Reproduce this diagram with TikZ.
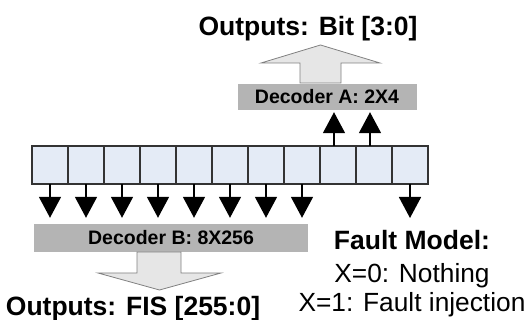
\documentclass[tikz,border=0pt]{standalone}
\usepackage{fontspec}
\setmainfont{Liberation Sans}
\usetikzlibrary{arrows.meta,calc}

\definecolor{cellblue}{HTML}{E4EBF6}
\definecolor{decgray}{HTML}{B4B4B4}
\definecolor{fatfill}{HTML}{E6E6E6}
\definecolor{fatline}{HTML}{808080}

\tikzset{
    cell/.style={draw=black!80, fill=cellblue, line width=1.5pt, minimum width=36pt,
        minimum height=38pt, inner sep=0pt, outer sep=0pt},
    decoder/.style={fill=decgray, inner sep=0pt, font=\fontsize{19.5}{22}\selectfont\bfseries},
    sig/.style={line width=1.7pt, -{Triangle[length=21pt,width=22pt]}},
    fat/.style={fill=fatfill, draw=fatline, line width=0.8pt, line join=miter},
    biglabel/.style={anchor=base, inner sep=0pt, font=\fontsize{26.5}{30}\selectfont\bfseries},
    faultline/.style={anchor=base, inner sep=0pt, font=\fontsize{26.3}{30}\selectfont},
}

\begin{document}
\begin{tikzpicture}[x=1pt, y=-1pt]

    % Fix the frame to the size of the original picture
    \useasboundingbox (0,0) rectangle (530,320);

    % The register: 11 cells, c1 on the left to c11 on the right
    \foreach \i in {1,...,11} {
        \node[cell] (c\i) at ({50+36*(\i-1)},165) {};
    }

    % The two decoders
    \node[decoder, minimum width=179pt, minimum height=26pt] (decA) at (327,97) {Decoder A: 2X4};
    \node[decoder, minimum width=274pt, minimum height=28pt] (decB) at (171,238) {Decoder B: 8X256};

    % Bits 1 to 8 feed decoder B
    \foreach \i in {1,...,8}
        \draw[sig, shorten >=6pt] (c\i.south) -- (c\i.south |- decB.north);

    % Bits 9 and 10 feed decoder A
    \foreach \i in {9,10}
        \draw[sig, shorten >=2pt] ([xshift=-4pt]c\i.north) -- ([xshift=-4pt]c\i.north |- decA.south);

    % Bit 11 is the fault bit X
    \coordinate (xbit) at (410,218);
    \draw[sig] (c11.south) -- (xbit);

    % Fat arrow from decoder A up to its outputs
    \draw[fat] (300,83) -- (300,63) -- (261,63) -- (320.5,45) -- (380,63) -- (341,63) -- (341,83) -- cycle;

    % Fat arrow from decoder B down to its outputs
    \draw[fat] (137,252) -- (137,273) -- (98,273) -- (159.5,290) -- (221,273) -- (181,273) -- (181,252) -- cycle;

    % Output labels
    \node[biglabel] (outA) at (308,36) {Outputs: Bit [3:0]};
    \node[biglabel] (outB) at (133,315.5) {Outputs: FIS [255:0]};

    % The fault model legend
    \node[biglabel] (fmodel) at (412,250) {Fault Model:};
    \node[faultline] (xzero) at (412,283) {X=0: Nothing};
    \node[faultline] (xone) at (412,312) {X=1: Fault injection};

\end{tikzpicture}
\end{document}
